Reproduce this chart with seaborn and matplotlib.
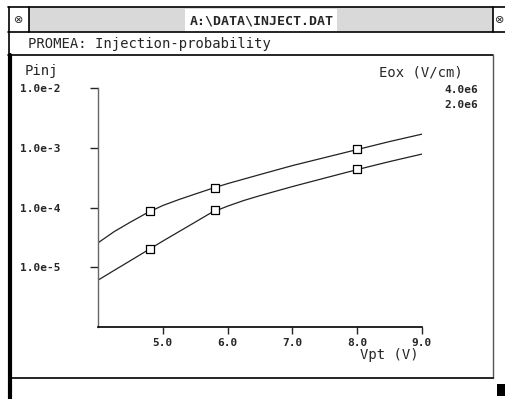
import matplotlib
matplotlib.use("Agg")
import matplotlib.pyplot as plt
import seaborn as sns
import pandas as pd
from matplotlib.patches import Rectangle
from matplotlib.lines import Line2D

# Daten
vpt_mess = [4.8, 5.8, 8.0]
pinj_4e6 = [8.7e-5, 2.14e-4, 9.5e-4]
pinj_2e6 = [2.03e-5, 9.0e-5, 4.4e-4]

# Ausgleichskurven
vpt_fit_4e6 = [4.0, 4.25, 4.5, 4.75, 5.0, 5.25, 5.5, 5.75, 6.0, 6.5, 7.0, 7.5, 8.0, 8.5, 9.0]
fit_4e6 = [2.56e-5, 3.95e-5, 5.69e-5, 8.05e-5, 1.08e-4, 1.36e-4, 1.68e-4, 2.07e-4,
           2.51e-4, 3.56e-4, 5.03e-4, 6.85e-4, 9.33e-4, 1.27e-3, 1.69e-3]
vpt_fit_2e6 = [4.0, 4.25, 4.5, 4.75, 5.0, 5.25, 5.5, 5.75, 6.0, 6.25, 6.5, 7.0, 7.5, 8.0, 8.5, 9.0]
fit_2e6 = [6.08e-6, 8.87e-6, 1.29e-5, 1.88e-5, 2.74e-5, 3.95e-5, 5.69e-5, 8.22e-5,
           1.054e-4, 1.31e-4, 1.58e-4, 2.24e-4, 3.11e-4, 4.31e-4, 5.87e-4, 7.84e-4]

legend_titel = "Eox (V/cm)"
legend_werte = ["4.0e6", "2.0e6"]
x_ticks = [5.0, 6.0, 7.0, 8.0, 9.0]
x_labels = ["5.0", "6.0", "7.0", "8.0", "9.0"]
y_ticks = [1e-5, 1e-4, 1e-3, 1e-2]
y_labels = ["1.0e-5", "1.0e-4", "1.0e-3", "1.0e-2"]

W, H = 505, 399
MONO = "DejaVu Sans Mono"

sns.set_style("white")
plt.rcParams["font.family"] = [MONO, "DejaVu Sans"]

fig = plt.figure(figsize=(W / 100, H / 100), dpi=100)


def fx(x):
    return x / W


def fy(y):
    return 1 - y / H


def linie(x0, y0, x1, y1, lw=1.2, color="black"):
    fig.add_artist(Line2D([fx(x0), fx(x1)], [fy(y0), fy(y1)],
                          transform=fig.transFigure, lw=lw, color=color))


# Fensterrahmen (GEM-Fenster)
fig.add_artist(Rectangle((fx(29), fy(32)), fx(493 - 29), (32 - 7) / H,
                         transform=fig.transFigure, facecolor="#d9d9d9",
                         edgecolor="none", hatch="....", linewidth=0))
fig.add_artist(Rectangle((fx(185), fy(32)), fx(152), (32 - 9) / H,
                         transform=fig.transFigure, facecolor="white", edgecolor="none"))
linie(8, 7, 505, 7)
linie(8, 32, 505, 32)
linie(29, 7, 29, 32)
linie(493, 7, 493, 32)
linie(8, 55, 493, 55)
linie(9, 7, 9, 55, lw=1.2)
linie(10, 55, 10, 399, lw=3.0)
linie(493, 55, 493, 378, lw=1.0, color="#555555")
linie(12, 378, 493, 378, lw=1.2)
fig.add_artist(Rectangle((fx(497), fy(396)), fx(8), 12 / H,
                         transform=fig.transFigure, facecolor="black", edgecolor="none"))
fig.text(fx(18.5), fy(20), "\u2297", ha="center", va="center", fontsize=8,
         family="DejaVu Sans")
fig.text(fx(500), fy(20), "\u2297", ha="center", va="center", fontsize=8,
         family="DejaVu Sans")
fig.text(fx(262), fy(21), "A:\\DATA\\INJECT.DAT", ha="center", va="center",
         fontsize=9.5, weight="bold")
fig.text(fx(28), fy(44), "PROMEA: Injection-probability", ha="left", va="center",
         fontsize=10)

# Diagramm
ax = fig.add_axes([fx(98), fy(327), (422 - 98) / W, (327 - 88) / H])
ax.set_yscale("log")

daten_fit = pd.DataFrame({"Vpt": vpt_fit_4e6 + vpt_fit_2e6,
                          "Pinj": fit_4e6 + fit_2e6,
                          "Eox": ["4.0e6"] * len(vpt_fit_4e6) + ["2.0e6"] * len(vpt_fit_2e6)})
daten_mess = pd.DataFrame({"Vpt": vpt_mess * 2,
                           "Pinj": pinj_4e6 + pinj_2e6,
                           "Eox": ["4.0e6"] * len(vpt_mess) + ["2.0e6"] * len(vpt_mess)})

sns.lineplot(data=daten_fit, x="Vpt", y="Pinj", units="Eox", estimator=None,
             color="#222222", lw=0.9, ax=ax, legend=False)
sns.scatterplot(data=daten_mess, x="Vpt", y="Pinj", marker="s", s=40,
                facecolor="white", edgecolor="black", linewidth=0.9,
                ax=ax, legend=False, zorder=3)

ax.set_xlim(4.0, 9.0)
ax.set_ylim(1e-6, 1e-2)
ax.set_xticks(x_ticks)
ax.set_xticklabels(x_labels)
ax.set_yticks(y_ticks)
ax.set_yticklabels(y_labels)
ax.yaxis.set_minor_locator(matplotlib.ticker.NullLocator())
ax.tick_params(axis="x", direction="out", length=5, width=1, pad=3,
               labelsize=8, bottom=True)
ax.tick_params(axis="y", direction="out", length=6, width=1, pad=21,
               labelsize=8, left=True)
for lab in ax.get_xticklabels() + ax.get_yticklabels():
    lab.set_fontweight("bold")
for s in ["top", "right"]:
    ax.spines[s].set_visible(False)
ax.spines["left"].set_color("#666666")
ax.spines["bottom"].set_color("black")
ax.spines["left"].set_linewidth(1.0)
ax.spines["bottom"].set_linewidth(1.2)
ax.set_xlabel("")
ax.set_ylabel("")
ax.grid(False)

fig.text(fx(25), fy(71), "Pinj", ha="left", va="center", fontsize=10)
fig.text(fx(360), fy(355), "Vpt (V)", ha="left", va="center", fontsize=10)
fig.text(fx(463), fy(72), legend_titel, ha="right", va="center", fontsize=10)
for i, wert in enumerate(legend_werte):
    fig.text(fx(478), fy(90 + 15.5 * i), wert, ha="right", va="center",
             fontsize=8, weight="bold")

fig.savefig("out.png", dpi=100)
